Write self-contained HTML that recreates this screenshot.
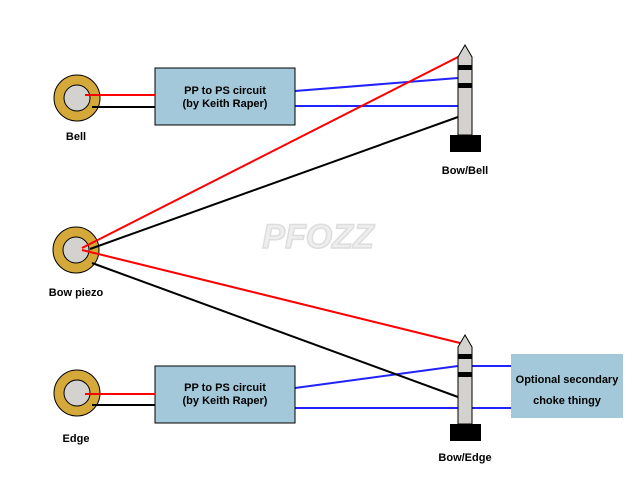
<!DOCTYPE html><html><head><style>body{margin:0;background:#fff}svg{display:block}text{font-family:"Liberation Sans",sans-serif;font-weight:bold;font-size:11px;fill:#000}</style></head><body>
<svg width="640" height="480" viewBox="0 0 640 480">
<text x="318" y="248" text-anchor="middle" style="font-size:34px;fill:#eee;stroke:#ddd;stroke-width:1.5;font-style:italic">PFOZZ</text>
<g stroke-width="2" fill="none">
<line x1="295" y1="91" x2="458" y2="78" stroke="#22f"/>
<line x1="295" y1="106" x2="458" y2="106" stroke="#22f"/>
<line x1="295" y1="388" x2="458" y2="366" stroke="#22f"/>
<line x1="295" y1="408" x2="511" y2="408" stroke="#22f"/>
<line x1="472" y1="366" x2="511" y2="366" stroke="#22f"/>
</g>
<g stroke="#000" stroke-width="1">
<circle cx="77" cy="98" r="23" fill="#d4a93a"/><circle cx="77" cy="98" r="13" fill="#d3d2cf"/>
<circle cx="76" cy="250" r="23" fill="#d4a93a"/><circle cx="76" cy="250" r="13" fill="#d3d2cf"/>
<circle cx="77" cy="393" r="23" fill="#d4a93a"/><circle cx="77" cy="393" r="13" fill="#d3d2cf"/>
<rect x="155" y="68" width="140" height="57" fill="#a2c8d9"/>
<rect x="155" y="366" width="140" height="57" fill="#a2c8d9"/>
</g>
<rect x="511" y="354" width="112" height="64" fill="#a2c8d9"/>
<g stroke-width="2" fill="none">
<line x1="85" y1="95" x2="155" y2="95" stroke="#f00"/>
<line x1="92" y1="107" x2="155" y2="107" stroke="#000"/>
<line x1="85" y1="394" x2="155" y2="394" stroke="#f00"/>
<line x1="92" y1="405" x2="155" y2="405" stroke="#000"/>
<line x1="82" y1="248" x2="460" y2="56" stroke="#f00"/>
<line x1="82" y1="250" x2="460" y2="343" stroke="#f00"/>
<line x1="90" y1="249" x2="458" y2="117" stroke="#000"/>
<line x1="92" y1="263" x2="458" y2="397" stroke="#000"/>
</g>
<g stroke="#000">
<path d="M458,135 V57 L465,45 L472,57 V135 Z" fill="#d3d2cf"/>
<path d="M458,424 V347 L465,335 L472,347 V424 Z" fill="#d3d2cf"/>
</g>
<rect x="458" y="65" width="14" height="5"/><rect x="458" y="83" width="14" height="5"/>
<rect x="450" y="135" width="31" height="17"/>
<rect x="458" y="354" width="14" height="5"/><rect x="458" y="372" width="14" height="5"/>
<rect x="450" y="424" width="31" height="17"/>
<text x="225" y="94" text-anchor="middle">PP to PS circuit</text>
<text x="225" y="107" text-anchor="middle">(by Keith Raper)</text>
<text x="225" y="391" text-anchor="middle">PP to PS circuit</text>
<text x="225" y="404" text-anchor="middle">(by Keith Raper)</text>
<text x="567" y="383" text-anchor="middle">Optional secondary</text>
<text x="567" y="404" text-anchor="middle">choke thingy</text>
<text x="76" y="140" text-anchor="middle">Bell</text>
<text x="76" y="296" text-anchor="middle">Bow piezo</text>
<text x="76" y="442" text-anchor="middle">Edge</text>
<text x="465" y="174" text-anchor="middle">Bow/Bell</text>
<text x="465" y="461" text-anchor="middle">Bow/Edge</text>
</svg></body></html>
